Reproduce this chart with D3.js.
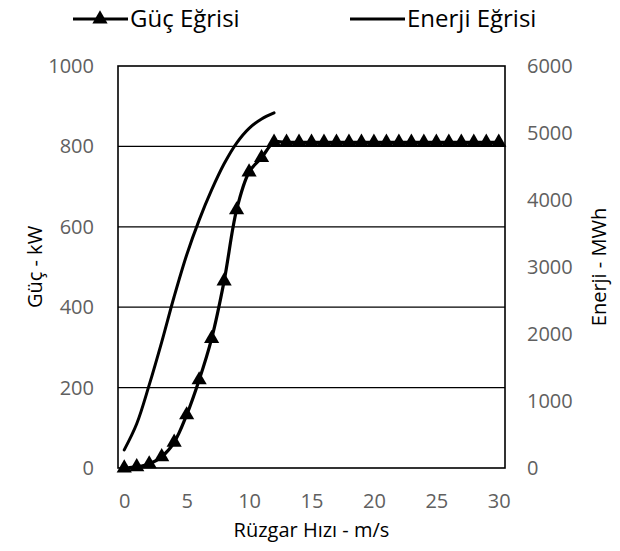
<!DOCTYPE html>
<html>
<head>
<meta charset="utf-8">
<script src="https://cdn.jsdelivr.net/npm/d3@7"></script>
<style>
  html, body { margin: 0; padding: 0; background: #fff; }
  svg { display: block; font-family: "Open Sans", sans-serif; }
</style>
</head>
<body>
<svg id="chart" width="620" height="551"></svg>
<script>
// Wind speed categories (m/s)
const windSpeed = d3.range(0, 31);
// Power curve (kW) for each wind speed
const powerKW = [0, 3, 10, 28, 64, 132, 219, 322, 465, 642, 736, 772,
  810, 810, 810, 810, 810, 810, 810, 810, 810, 810, 810, 810, 810, 810, 810, 810, 810, 810, 810];
// Energy curve (MWh), wind speeds 0-12
const energyMWh = [270, 660, 1240, 1880, 2560, 3180, 3700, 4150, 4540, 4850, 5070, 5210, 5300];
// Axis tick values
const xTicks = [0, 5, 10, 15, 20, 25, 30];
const powerTicks = [0, 200, 400, 600, 800, 1000];
const energyTicks = [0, 1000, 2000, 3000, 4000, 5000, 6000];

const svg = d3.select("#chart");
const plotL = 118, plotR = 505, plotT = 66, plotB = 468;

const x = d3.scalePoint().domain(windSpeed).range([plotL, plotR]).padding(0.5);
const yP = d3.scaleLinear().domain([0, 1000]).range([plotB, plotT]);
const yE = d3.scaleLinear().domain([0, 6000]).range([plotB, plotT]);

// Horizontal gridlines
svg.append("g")
  .selectAll("line")
  .data(powerTicks.filter(d => d > 0 && d < 1000))
  .join("line")
  .attr("x1", plotL).attr("x2", plotR)
  .attr("y1", d => yP(d)).attr("y2", d => yP(d))
  .attr("stroke", "#000").attr("stroke-width", 1.3);

// Plot frame
svg.append("rect")
  .attr("x", plotL).attr("y", plotT)
  .attr("width", plotR - plotL).attr("height", plotB - plotT)
  .attr("fill", "none").attr("stroke", "#000").attr("stroke-width", 1.6);

// Axes
const tickColor = "#606060";
const fmt = d3.format("d");
const styleAxis = g => {
  g.select(".domain").remove();
  g.selectAll(".tick line").remove();
  g.selectAll("text").attr("fill", tickColor).attr("font-size", 20)
    .attr("font-family", "'Open Sans', sans-serif");
};

svg.append("g")
  .attr("transform", `translate(0,${plotB})`)
  .call(d3.axisBottom(x).tickValues(xTicks).tickFormat(fmt).tickSize(0).tickPadding(26))
  .call(styleAxis);

svg.append("g")
  .attr("transform", `translate(${plotL},0)`)
  .call(d3.axisLeft(yP).tickValues(powerTicks).tickFormat(fmt).tickSize(0).tickPadding(24))
  .call(styleAxis);

svg.append("g")
  .attr("transform", `translate(${plotR},0)`)
  .call(d3.axisRight(yE).tickValues(energyTicks).tickFormat(fmt).tickSize(0).tickPadding(22))
  .call(styleAxis);

// Energy curve
const lineE = d3.line()
  .x((d, i) => x(windSpeed[i]))
  .y(d => yE(d))
  .curve(d3.curveCatmullRom);
svg.append("path")
  .datum(energyMWh)
  .attr("d", lineE)
  .attr("fill", "none").attr("stroke", "#000").attr("stroke-width", 3)
  .attr("stroke-linecap", "round");

// Power curve with triangle markers
const lineP = d3.line()
  .x((d, i) => x(windSpeed[i]))
  .y(d => yP(d))
  .curve(d3.curveCatmullRom);
svg.append("path")
  .datum(powerKW)
  .attr("d", lineP)
  .attr("fill", "none").attr("stroke", "#000").attr("stroke-width", 3.2)
  .attr("stroke-linejoin", "round");

const tri = d3.symbol().type(d3.symbolTriangle).size(100);
svg.append("g")
  .selectAll("path")
  .data(powerKW)
  .join("path")
  .attr("d", tri)
  .attr("transform", (d, i) => `translate(${x(windSpeed[i])},${yP(d)})`)
  .attr("fill", "#000");

// Axis titles
svg.append("text")
  .attr("transform", `translate(42,${(plotT + plotB) / 2}) rotate(-90)`)
  .attr("text-anchor", "middle")
  .attr("font-size", 20).attr("fill", "#000")
  .text("Güç - kW");

svg.append("text")
  .attr("transform", `translate(606,${(plotT + plotB) / 2}) rotate(-90)`)
  .attr("text-anchor", "middle")
  .attr("font-size", 20).attr("fill", "#000")
  .text("Enerji - MWh");

svg.append("text")
  .attr("x", (plotL + plotR) / 2).attr("y", 537)
  .attr("text-anchor", "middle")
  .attr("font-size", 20).attr("fill", "#000")
  .text("Rüzgar Hızı - m/s");

// Legend
const legend = svg.append("g");
const legY = 19;
const legItems = [
  { name: "Güç Eğrisi", x0: 73, marker: true },
  { name: "Enerji Eğrisi", x0: 350, marker: false }
];
legItems.forEach(it => {
  legend.append("line")
    .attr("x1", it.x0).attr("x2", it.x0 + 55)
    .attr("y1", legY).attr("y2", legY)
    .attr("stroke", "#000").attr("stroke-width", 3);
  if (it.marker) {
    legend.append("path")
      .attr("d", tri)
      .attr("transform", `translate(${it.x0 + 27},${legY})`)
      .attr("fill", "#000");
  }
  legend.append("text")
    .attr("x", it.x0 + 57).attr("y", legY)
    .attr("dy", "0.35em")
    .attr("font-size", 24).attr("fill", "#000")
    .text(it.name);
});
</script>
</body>
</html>
